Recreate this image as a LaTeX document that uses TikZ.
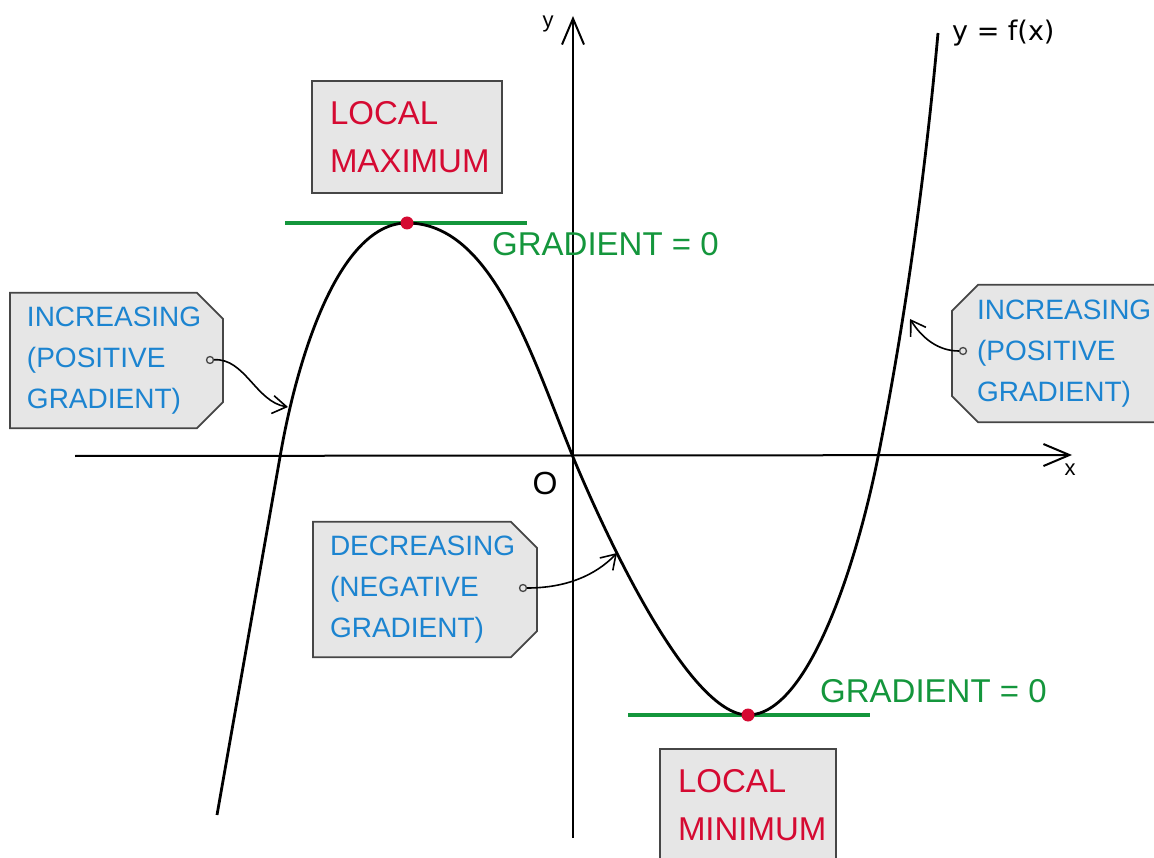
\documentclass[tikz,border=0pt]{standalone}
\usepackage{fontspec}
\setmainfont{Liberation Sans}
\newfontfamily\eqfont{DejaVu Sans}
\usetikzlibrary{arrows.meta, shapes.misc}
\definecolor{boxfill}{RGB}{230,230,230}
\definecolor{boxline}{RGB}{70,70,70}
\definecolor{incblue}{RGB}{28,132,208}
\definecolor{statred}{RGB}{213,10,50}
\definecolor{gradgreen}{RGB}{20,150,60}

\begin{document}
\begin{tikzpicture}[x=1pt, y=-1pt,
  statbox/.style={draw=boxline, line width=1.8pt, fill=boxfill, text=statred,
                  align=left, font=\fontsize{33}{48}\selectfont, inner xsep=18pt},
  tagbox/.style={chamfered rectangle, chamfered rectangle xsep=13pt,
                 chamfered rectangle ysep=13pt, draw=boxline, line width=1.8pt,
                 fill=boxfill, text=incblue, align=left,
                 font=\fontsize{28}{41}\selectfont, inner xsep=4pt, inner ysep=1pt},
  tagdot/.style={circle, draw=boxline, fill=boxfill, line width=1.3pt,
                 inner sep=0pt, minimum size=7pt},
  tagarrow/.style={line width=1.6pt, -{Straight Barb[length=14pt, width=18pt]}},
  axis/.style={line width=2pt, -{Straight Barb[length=26pt, width=22pt]}},
  gradline/.style={gradgreen, line width=4pt},
  gradtext/.style={text=gradgreen, font=\fontsize{33}{40}\selectfont, anchor=base west, inner sep=0pt},
  statpt/.style={circle, fill=statred, inner sep=0pt, minimum size=13pt}]
  \useasboundingbox (0,0) rectangle (1154,858);

  % axes
  \draw[axis] (75,456) -- (1072,455);
  \draw[axis] (573,838) -- (573,16);
  \node[font=\fontsize{22}{22}\selectfont] (ylab) at (548,24) {y};
  \node[font=\fontsize{22}{22}\selectfont] (xlab) at (1070,470) {x};
  \node[font=\fontsize{32}{32}\selectfont] (orig) at (545,483) {O};

  % tangents at the turning points
  \draw[gradline] (285,223) -- (527,223);
  \draw[gradline] (628,715) -- (870,715);

  % the curve
  \draw[line width=2.8pt] (217,815) -- (280,457)
    .. controls (299,347) and (342,223) .. (407,223)
    .. controls (492,223) and (531.4,355.1) .. (573,457)
    .. controls (603.8,530.8) and (688,715) .. (748,715)
    .. controls (808,715) and (856.4,565) .. (878,457)
    .. controls (905.4,319.7) and (925.4,173) .. (938,33);
  \node[anchor=base west, font=\eqfont\fontsize{27}{27}\selectfont, inner sep=0pt]
    (flab) at (952,41) {y = f(x)};

  \node[statpt] (maxpt) at (407,223) {};
  \node[statpt] (minpt) at (748,715) {};

  \node[gradtext] (gradmax) at (492,256) {GRADIENT = 0};
  \node[gradtext] (gradmin) at (820,702) {GRADIENT = 0};

  % boxes
  \node[statbox, minimum width=190pt, minimum height=112pt, text width=154pt]
    (maxbox) at (407,137) {LOCAL\\MAXIMUM};
  \node[statbox, minimum width=176pt, minimum height=112pt, text width=140pt]
    (minbox) at (748,805) {LOCAL\\MINIMUM};

  \node[tagbox, chamfered rectangle corners={north east, south east},
        text width=179pt]
    (incL) at (116.5,360.5) {INCREASING\\(POSITIVE\\GRADIENT)};
  \node[tagbox, chamfered rectangle corners={north east, south east},
        text width=190pt]
    (decbox) at (425,589.5) {DECREASING\\(NEGATIVE\\GRADIENT)};
  \node[tagbox, chamfered rectangle corners={north west, south west},
        text width=180pt, inner xsep=12pt, inner ysep=2pt]
    (incR) at (1067,353.5) {INCREASING\\(POSITIVE\\GRADIENT)};

  % pointers
  \node[tagdot] (incLdot) at (210,360) {};
  \node[tagdot] (decdot) at (523,588) {};
  \node[tagdot] (incRdot) at (963,351) {};
  \coordinate (incLtip) at (288,407);
  \coordinate (dectip) at (617,553);
  \coordinate (incRtip) at (910,319);
  \draw[tagarrow] (incLdot) .. controls (245,358) and (256,402) .. (incLtip);
  \draw[tagarrow] (decdot) .. controls (565,588) and (595,576) .. (dectip);
  \draw[tagarrow] (incRdot) .. controls (938,351) and (922,338) .. (incRtip);
\end{tikzpicture}
\end{document}
